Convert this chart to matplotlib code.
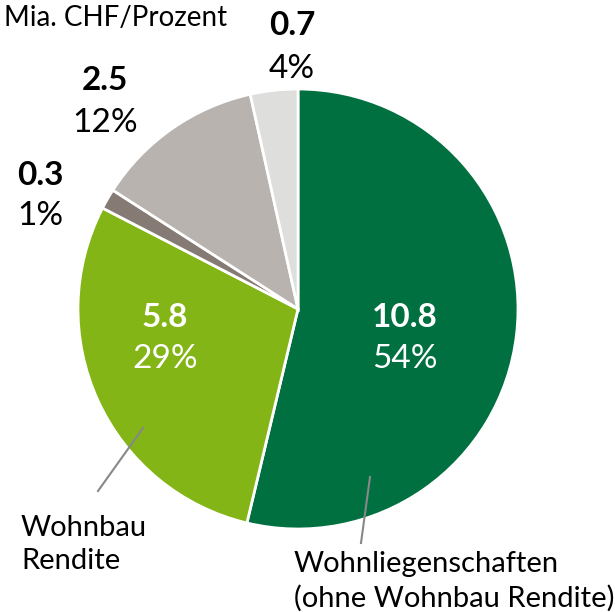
import matplotlib
matplotlib.use("Agg")
import matplotlib.pyplot as plt

plt.rcParams["font.family"] = ["Lato", "DejaVu Sans"]

values = [10.8, 5.8, 0.3, 2.5, 0.7]
percents = ["54%", "29%", "1%", "12%", "4%"]
colors = ["#007041", "#83B516", "#857A74", "#B8B3AE", "#DEDFDC"]
title = "Mia. CHF/Prozent"
name_main = ["Wohnliegenschaften", "(ohne Wohnbau Rendite)"]
name_rendite = ["Wohnbau", "Rendite"]

W, H = 615, 612
fig = plt.figure(figsize=(W / 100, H / 100), dpi=100)

def fx(px):
    return px / W

def fy(py):
    return 1 - py / H

# pie centre (298, 309) px, radius 220 px
ax = fig.add_axes([fx(78), fy(529), 440 / W, 440 / H])
ax.pie(values, colors=colors, startangle=90, counterclock=False,
       wedgeprops=dict(edgecolor="white", linewidth=2))
ax.set_xlim(-1, 1)
ax.set_ylim(-1, 1)
ax.set_aspect("equal")
ax.axis("off")

# value / percent labels: centre x, baseline of value, baseline of percent (px)
label_pos = [(405, 327, 368), (165, 327, 368), (40, 185, 225),
             (105, 90, 132), (292, 35, 78)]
label_col = ["white", "white", "black", "black", "black"]
for v, p, (x, y1, y2), c in zip(values, percents, label_pos, label_col):
    fig.text(fx(x), fy(y1), f"{v:.1f}", ha="center", va="baseline",
             fontsize=24, fontweight="bold", color=c)
    fig.text(fx(x), fy(y2), p, ha="center", va="baseline",
             fontsize=24, color=c)

fig.text(fx(4), fy(26), title, ha="left", va="baseline", fontsize=20)

# leader lines
fig.add_artist(plt.Line2D([fx(143), fx(98)], [fy(428), fy(491)],
                          color="#888888", linewidth=1.5))
fig.add_artist(plt.Line2D([fx(370), fx(361)], [fy(477), fy(543)],
                          color="#888888", linewidth=1.5))

for line, yb in zip(name_rendite, [536, 569]):
    fig.text(fx(21), fy(yb), line, ha="left", va="baseline", fontsize=21)
for line, yb in zip(name_main, [572, 607]):
    fig.text(fx(294), fy(yb), line, ha="left", va="baseline", fontsize=21)

fig.savefig("out.png", dpi=100)
